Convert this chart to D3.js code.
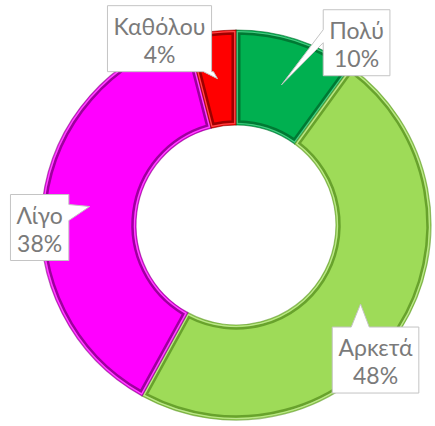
<!DOCTYPE html>
<html>
<head>
<meta charset="utf-8">
<script src="https://cdn.jsdelivr.net/npm/d3@7"></script>
<style>
  body { margin: 0; background: #fff; }
  svg { display: block; }
</style>
</head>
<body>
<svg width="435" height="426"></svg>
<script>
// data
const categories = ["Πολύ", "Αρκετά", "Λίγο", "Καθόλου"];
const values = [10, 48, 38, 4];
const labels = ["10%", "48%", "38%", "4%"];
const colors = ["#00b050", "#9edb58", "#ff00ff", "#ff0000"];
const edgeColors = ["#006b2c", "#5a9422", "#840084", "#840000"];

// callout layout: box centre offset from the slice centroid, tail edge and base
const callouts = [
  { dx: 75, dy: -42, edge: "left", b0: 20, b1: 33 },
  { dx: 15, dy: 56, edge: "top", b0: 19, b1: 37 },
  { dx: -50, dy: 21, edge: "right", b0: 10, b1: 26 },
  { dx: -58, dy: -40, edge: "bottom", b0: 96, b1: 106 }
];

const cx = 236, cy = 225, outerR = 195, innerR = 100;

const svg = d3.select("svg");
const g = svg.append("g").attr("transform", `translate(${cx},${cy})`);

const pie = d3.pie().sort(null).value((d, i) => values[i]);
const arcs = pie(categories);

const arc = d3.arc().innerRadius(innerR).outerRadius(outerR);
const bevel = d3.arc().innerRadius(innerR + 3.5).outerRadius(outerR - 3.5)
  .padAngle(0.055).padRadius(120);
const labelArc = d3.arc().innerRadius(innerR).outerRadius(outerR);

// slices
g.selectAll(".slice").data(arcs).enter().append("path")
  .attr("class", "slice")
  .attr("d", arc)
  .attr("fill", (d, i) => colors[i])
  .attr("stroke", (d, i) => edgeColors[i])
  .attr("stroke-opacity", 0.6)
  .attr("stroke-width", 1.2);

// inner bevel line
g.selectAll(".bevel").data(arcs).enter().append("path")
  .attr("class", "bevel")
  .attr("d", bevel)
  .attr("fill", "none")
  .attr("stroke", (d, i) => edgeColors[i])
  .attr("stroke-width", 2.5)
  .attr("stroke-opacity", 0.8);

// highlight just inside the edge
g.selectAll(".hl").data(arcs).enter().append("path")
  .attr("class", "hl")
  .attr("d", d3.arc().innerRadius(innerR + 1.5).outerRadius(outerR - 1.5).padAngle(0.02).padRadius(120))
  .attr("fill", "none")
  .attr("stroke", "#ffffff")
  .attr("stroke-width", 1.2)
  .attr("stroke-opacity", 0.3);

// callouts
function calloutPath(x0, y0, x1, y1, c, tip) {
  const p = d3.path();
  p.moveTo(x0, y0);
  if (c.edge === "top") { p.lineTo(x0 + c.b0, y0); p.lineTo(tip[0], tip[1]); p.lineTo(x0 + c.b1, y0); }
  p.lineTo(x1, y0);
  if (c.edge === "right") { p.lineTo(x1, y0 + c.b0); p.lineTo(tip[0], tip[1]); p.lineTo(x1, y0 + c.b1); }
  p.lineTo(x1, y1);
  if (c.edge === "bottom") { p.lineTo(x0 + c.b1, y1); p.lineTo(tip[0], tip[1]); p.lineTo(x0 + c.b0, y1); }
  p.lineTo(x0, y1);
  if (c.edge === "left") { p.lineTo(x0, y0 + c.b1); p.lineTo(tip[0], tip[1]); p.lineTo(x0, y0 + c.b0); }
  p.closePath();
  return p.toString();
}

const lab = g.selectAll(".callout").data(arcs).enter().append("g").attr("class", "callout");

lab.each(function(d, i) {
  const sel = d3.select(this);
  const tip = labelArc.centroid(d);
  const c = callouts[i];
  const bx = tip[0] + c.dx, by = tip[1] + c.dy;
  const path = sel.append("path");
  const t = sel.append("text")
    .attr("text-anchor", "middle")
    .attr("font-family", "Lato, 'Open Sans', sans-serif")
    .attr("font-size", 23)
    .attr("fill", "#7a7a7a");
  t.append("tspan").attr("x", bx).attr("y", by - 4).text(categories[i]);
  t.append("tspan").attr("x", bx).attr("y", by + 24).text(labels[i]);
  const w = t.node().getBBox().width + 12;
  const h = 66;
  const x0 = bx - w / 2, y0 = by - h / 2;
  path.attr("d", calloutPath(x0, y0, x0 + w, y0 + h, c, tip))
    .attr("fill", "#fff")
    .attr("stroke", "#c4c4c4")
    .attr("stroke-width", 1);
});
</script>
</body>
</html>
